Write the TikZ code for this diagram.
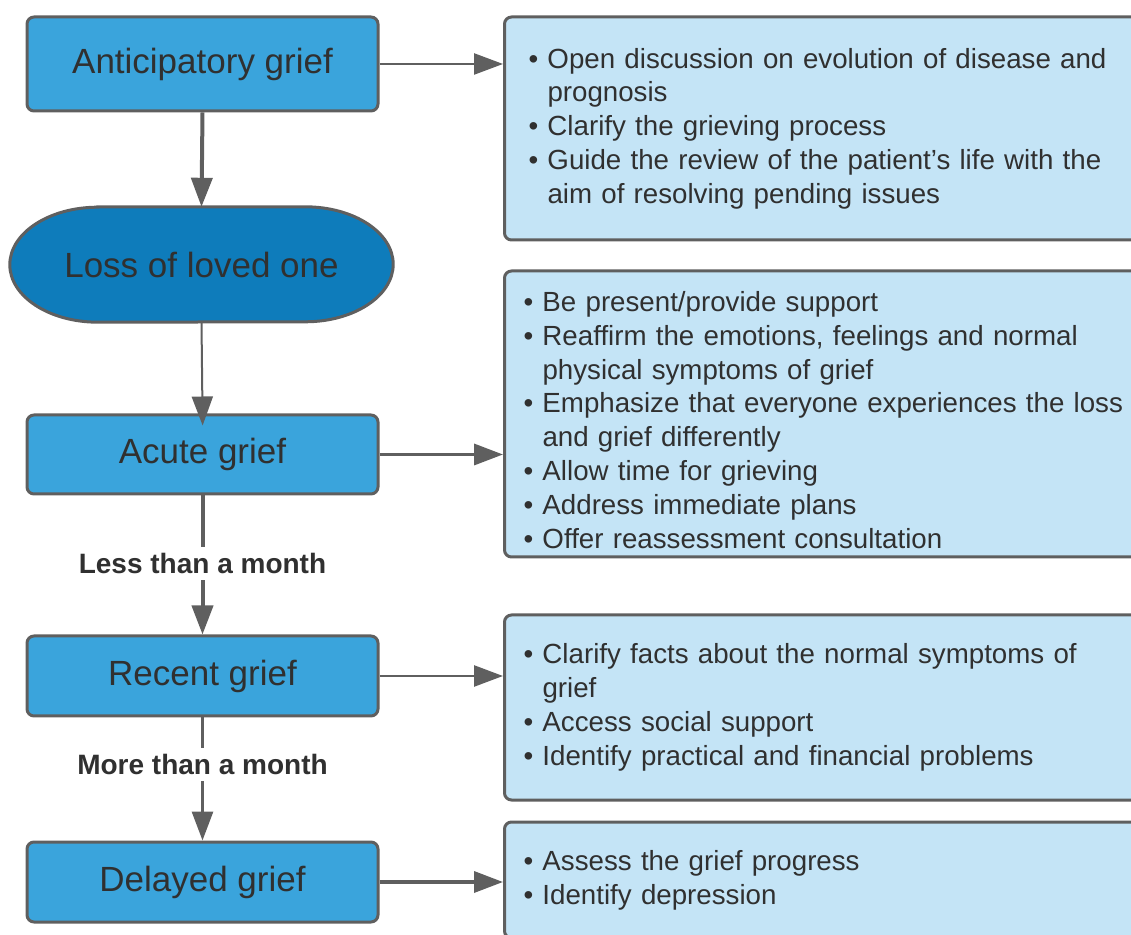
\documentclass[tikz,border=0pt]{standalone}
\usepackage{fontspec}
\setmainfont{Liberation Sans}
\usetikzlibrary{arrows.meta}
\pgfdeclarelayer{bg}
\pgfsetlayers{bg,main}

\definecolor{stagefill}{HTML}{3AA4DC}
\definecolor{lossfill}{HTML}{0E7CBB}
\definecolor{notefill}{HTML}{C4E4F6}
\definecolor{edgegray}{HTML}{5F5F5F}
\definecolor{inkgray}{HTML}{303030}

\tikzset{
  stage/.style={draw=edgegray, line width=3pt, fill=stagefill, rounded corners=7pt,
    minimum width=351pt, inner sep=0pt, text=inkgray, font=\fontsize{35}{40}\selectfont},
  notebox/.style={draw=edgegray, line width=3pt, fill=notefill, rounded corners=7pt,
    anchor=west, text width=640pt, align=left, inner xsep=19pt, inner ysep=0pt,
    text=inkgray, font=\fontsize{27.7}{33.8}\selectfont},
  flow/.style={draw=edgegray, -{Triangle[length=29pt,width=21pt]}},
  steplabel/.style={fill=white, text=inkgray, inner xsep=4pt, inner ysep=6pt,
    font=\bfseries\fontsize{28}{32}\selectfont}
}
% bullet item and its continuation line
\newcommand{\itm}[1]{\makebox[19pt][l]{•}#1}
\newcommand{\cnt}[1]{\hspace*{19pt}#1}

\begin{document}
\begin{tikzpicture}[x=1pt,y=1pt]
  \useasboundingbox (0,0) rectangle (1131,934);
  \clip (0,0) rectangle (1131,934);

  % stages of grief
  \node[stage, minimum height=94pt] (ant) at (202.5,870) {Anticipatory grief};
  \node[minimum width=383pt, minimum height=115pt, inner sep=0pt, text=inkgray,
        font=\fontsize{35}{40}\selectfont] (loss) at (201.5,669.5) {Loss of loved one};
  \begin{pgfonlayer}{bg}
    \draw[edgegray, line width=3pt, fill=lossfill]
      ([xshift=88pt]loss.north west) -- ([xshift=-88pt]loss.north east)
      arc[start angle=90, end angle=-90, x radius=88pt, y radius=57.5pt]
      -- ([xshift=88pt]loss.south west)
      arc[start angle=270, end angle=90, x radius=88pt, y radius=57.5pt] -- cycle;
  \end{pgfonlayer}
  \node[stage, minimum height=79pt] (acute) at (202.5,479.5) {Acute grief};
  \node[stage, minimum height=80pt] (recent) at (202.5,258) {Recent grief};
  \node[stage, minimum height=80pt] (delayed) at (202.5,52) {Delayed grief};

  % advice boxes
  \node[notebox, inner xsep=24pt, minimum height=223pt] (b1) at (503,805.5) {%
    \itm{Open discussion on evolution of disease and}\\
    \cnt{prognosis}\\
    \itm{Clarify the grieving process}\\
    \itm{Guide the review of the patient’s life with the}\\
    \cnt{aim of resolving pending issues}};
  \node[notebox, minimum height=286pt] (b2) at (503,520) {%
    \rule{0pt}{32pt}\itm{Be present/provide support}\\
    \itm{Reaffirm the emotions, feelings and normal}\\
    \cnt{physical symptoms of grief}\\
    \itm{Emphasize that everyone experiences the loss}\\
    \cnt{and grief differently}\\
    \itm{Allow time for grieving}\\
    \itm{Address immediate plans}\\
    \itm{Offer reassessment consultation}};
  \node[notebox, minimum height=185pt] (b3) at (503,226.5) {%
    \itm{Clarify facts about the normal symptoms of}\\
    \cnt{grief}\\
    \itm{Access social support}\\
    \itm{Identify practical and financial problems}};
  \node[notebox, minimum height=116pt] (b4) at (503,54) {%
    \itm{Assess the grief progress}\\
    \itm{Identify depression}};

  % vertical flow
  \draw[flow, line width=4pt] (ant.south) -- (loss.north);
  \draw[flow, line width=2pt, shorten >=-12pt] (loss.south) -- (acute.north);
  \draw[flow, line width=4pt] (acute.south) --
    node[steplabel, pos=0.49] {Less than a month} (recent.north);
  \draw[flow, line width=3pt] (recent.south) --
    node[steplabel, pos=0.38] {More than a month} (delayed.north);

  % links to advice
  \draw[flow, line width=2.5pt] (ant.east) -- (ant.east -| b1.west);
  \draw[flow, line width=3.5pt] (acute.east) -- (acute.east -| b2.west);
  \draw[flow, line width=2.5pt] (recent.east) -- (recent.east -| b3.west);
  \draw[flow, line width=3.5pt] (delayed.east) -- (delayed.east -| b4.west);
\end{tikzpicture}
\end{document}
